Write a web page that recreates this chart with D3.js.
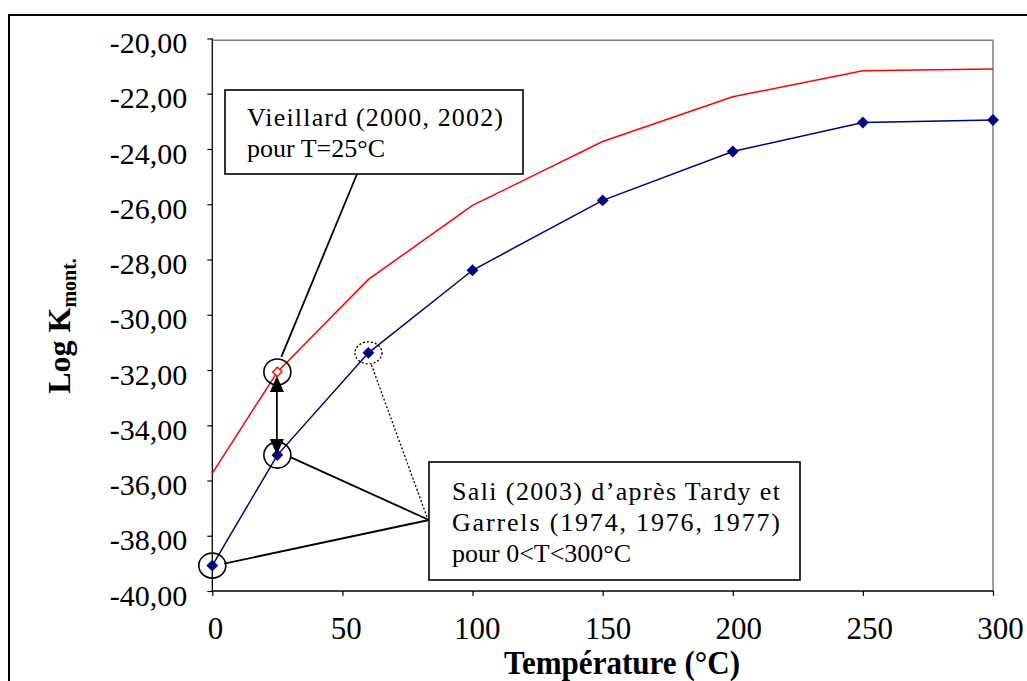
<!DOCTYPE html>
<html>
<head>
<meta charset="utf-8">
<script src="https://cdn.jsdelivr.net/npm/d3@7"></script>
<style>
  html, body { margin: 0; padding: 0; background: #fff; }
  svg { display: block; }
</style>
</head>
<body>
<svg id="chart" width="1027" height="681"></svg>
<script>
// ---- data ----
const temps = [0, 25, 60, 100, 150, 200, 250, 300];
const saliValues = [-39.08, -35.08, -31.38, -28.39, -25.86, -24.09, -23.04, -22.95];
const vieillardValues = [-35.74, -32.07, -28.72, -26.04, -23.73, -22.11, -21.17, -21.10];
const vieillardPointT = [25];
const vieillardPointV = [-32.07];
const yTickValues = [-40, -38, -36, -34, -32, -30, -28, -26, -24, -22, -20];
const xTickValues = [0, 50, 100, 150, 200, 250, 300];
const xTitle = "Température (°C)";
const yTitleMain = "Log K";
const yTitleSub = "mont.";
const noteVieillard = ["Vieillard (2000, 2002)", "pour T=25°C"];
const noteSali = ["Sali (2003) d’après Tardy et", "Garrels (1974, 1976, 1977)", "pour 0<T<300°C"];

// ---- layout ----
const FONT = "'Liberation Serif', 'Times New Roman', Times, serif";
const svg = d3.select("#chart");
const x = d3.scaleLinear().domain([0, 300]).range([212.3, 993]);
const xLab = d3.scaleLinear().domain([0, 300]).range([215, 1000]);
const y = d3.scaleLinear().domain([-40, -20]).range([591, 38.5]);
const fmt = v => d3.format(".2f")(v).replace(".", ",").replace("\u2212", "-");

// outer border
svg.append("rect").attr("x", 9).attr("y", 15).attr("width", 1040).attr("height", 700)
  .attr("fill", "none").attr("stroke", "#000").attr("stroke-width", 2);

// plot frame (gray top & right)
svg.append("path")
  .attr("d", `M${x(0)},${y(-20) + 1.8}H${x(300)}V${y(-40)}`)
  .attr("fill", "none").attr("stroke", "#808080").attr("stroke-width", 1.5);

// y axis
const yAxis = svg.append("g").attr("transform", `translate(${x(0)},0)`)
  .call(d3.axisLeft(y).tickValues(yTickValues).tickSize(5).tickPadding(20).tickFormat(fmt));
yAxis.attr("font-family", null);
yAxis.select(".domain").attr("stroke", "#000").attr("stroke-width", 1.3)
  .attr("d", `M0,${y(-20)}V${y(-40)}`);
yAxis.selectAll(".tick line").attr("stroke", "#000").attr("stroke-width", 1.2);
yAxis.selectAll(".tick text").attr("font-size", 30).attr("fill", "#000").attr("dy", "0.47em");

// x axis
const xAxis = svg.append("g").attr("transform", `translate(0,${y(-40)})`)
  .call(d3.axisBottom(x).tickValues(xTickValues).tickSize(5).tickPadding(21).tickFormat(d3.format("d")));
xAxis.attr("font-family", null);
xAxis.select(".domain").attr("stroke", "#000").attr("stroke-width", 1.3)
  .attr("d", `M${x(0)},0H${x(300)}`);
xAxis.selectAll(".tick line").attr("stroke", "#000").attr("stroke-width", 1.2);
xAxis.selectAll(".tick text").attr("font-size", 31).attr("fill", "#000")
  .attr("x", d => xLab(d) - x(d));

// lines
const line = d3.line().x(d => x(d[0])).y(d => y(d[1]));
svg.append("path").datum(temps.map((t, i) => [t, vieillardValues[i]]))
  .attr("d", line).attr("fill", "none").attr("stroke", "#ff0000").attr("stroke-width", 1.5);
svg.append("path").datum(temps.map((t, i) => [t, saliValues[i]]))
  .attr("d", line).attr("fill", "none").attr("stroke", "#000080").attr("stroke-width", 1.5);

// blue diamond markers
const diamond = d3.symbol().type(d3.symbolDiamond2).size(90);
svg.selectAll(".bm").data(temps.map((t, i) => [t, saliValues[i]])).enter().append("path")
  .attr("d", diamond).attr("transform", d => `translate(${x(d[0])},${y(d[1])})`)
  .attr("fill", "#000080");

// hollow red diamond
svg.selectAll(".rm").data(vieillardPointT.map((t, i) => [t, vieillardPointV[i]])).enter().append("path")
  .attr("d", d3.symbol().type(d3.symbolDiamond2).size(55))
  .attr("transform", d => `translate(${x(d[0])},${y(d[1])})`)
  .attr("fill", "#fff").attr("stroke", "#ff0000").attr("stroke-width", 1.3);

// ---- annotations ----
const ann = svg.append("g");
function ellipse(cx, cy, rx, ry, dotted) {
  ann.append("ellipse").attr("cx", cx).attr("cy", cy).attr("rx", rx).attr("ry", ry)
    .attr("fill", "none").attr("stroke", "#000").attr("stroke-width", dotted ? 1.3 : 1.6)
    .attr("stroke-dasharray", dotted ? "2,2" : null);
}
function seg(x1, y1, x2, y2, dotted) {
  ann.append("line").attr("x1", x1).attr("y1", y1).attr("x2", x2).attr("y2", y2)
    .attr("stroke", "#000").attr("stroke-width", dotted ? 1.3 : 1.8)
    .attr("stroke-dasharray", dotted ? "2,2" : null);
}
const pR25 = [x(vieillardPointT[0]), y(vieillardPointV[0])];
const pB25 = [x(temps[1]), y(saliValues[1])];
const pB0 = [x(temps[0]), y(saliValues[0])];
const pB60 = [x(temps[2]), y(saliValues[2])];

ellipse(pR25[0], pR25[1], 13.5, 13);
ellipse(pB25[0], pB25[1], 13.5, 13);
ellipse(pB0[0], pB0[1], 13.5, 12.5);
ellipse(pB60[0], pB60[1], 13.5, 11, true);

// double arrow
const ax = pB25[0] - 0.5;
const topTip = pR25[1] + 4, botTip = pB25[1];
seg(ax, topTip + 10, ax, botTip - 10);
ann.append("path").attr("d", `M${ax},${topTip}L${ax - 7},${topTip + 16}L${ax + 7},${topTip + 16}Z`).attr("fill", "#000");
ann.append("path").attr("d", `M${ax},${botTip}L${ax - 7},${botTip - 16}L${ax + 7},${botTip - 16}Z`).attr("fill", "#000");

// Vieillard box
const vb = { x: 225, y: 90, w: 298, h: 84 };
seg(357, vb.y + vb.h, pR25[0] + 4, pR25[1] - 15);
ann.append("rect").attr("x", vb.x).attr("y", vb.y).attr("width", vb.w).attr("height", vb.h)
  .attr("fill", "#fff").attr("stroke", "#000").attr("stroke-width", 1.6);
ann.append("text").attr("x", 247).attr("y", 126).attr("font-size", 26)
  .attr("textLength", 256).attr("lengthAdjust", "spacing").text(noteVieillard[0]);
ann.append("text").attr("x", 247).attr("y", 157).attr("font-size", 26).text(noteVieillard[1]);

// Sali box
const sb = { x: 429, y: 462, w: 371, h: 118 };
const hub = [sb.x, 520];
seg(hub[0], hub[1], pB25[0] + 13, pB25[1] + 2);
seg(hub[0], hub[1], pB0[0] + 12, pB0[1] - 2);
seg(hub[0] - 2, hub[1] - 3, pB60[0] + 3, pB60[1] + 12, true);
ann.append("rect").attr("x", sb.x).attr("y", sb.y).attr("width", sb.w).attr("height", sb.h)
  .attr("fill", "#fff").attr("stroke", "#000").attr("stroke-width", 1.6);
ann.append("text").attr("x", 452).attr("y", 500).attr("font-size", 26)
  .attr("textLength", 328).attr("lengthAdjust", "spacing").text(noteSali[0]);
ann.append("text").attr("x", 452).attr("y", 531).attr("font-size", 26)
  .attr("textLength", 328).attr("lengthAdjust", "spacing").text(noteSali[1]);
ann.append("text").attr("x", 452).attr("y", 562).attr("font-size", 26).text(noteSali[2]);

// axis titles
svg.append("text").attr("x", 622).attr("y", 674).attr("text-anchor", "middle")
  .attr("font-size", 34).attr("font-weight", "bold")
  .attr("textLength", 236).attr("lengthAdjust", "spacingAndGlyphs").text(xTitle);

const yt = svg.append("text").attr("transform", "translate(70,326) rotate(-90)")
  .attr("text-anchor", "middle").attr("font-size", 32).attr("font-weight", "bold");
yt.append("tspan").text(yTitleMain);
yt.append("tspan").attr("font-size", 20).attr("dy", 6).text(yTitleSub);

// serif everywhere
svg.selectAll("text").style("font-family", FONT);
</script>
</body>
</html>
